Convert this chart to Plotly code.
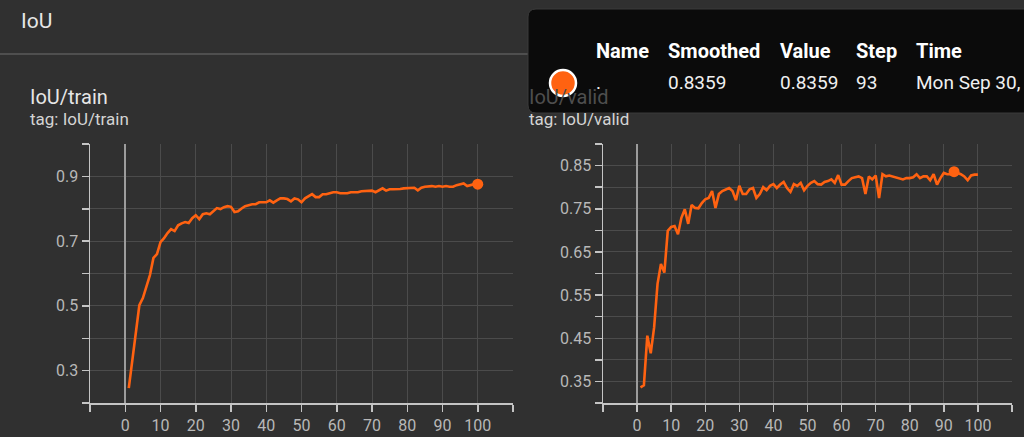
import plotly.graph_objects as go

# ---------------- data ----------------
steps = list(range(1, 101))

train_iou = [
    0.246, 0.33, 0.42, 0.502, 0.524, 0.558, 0.595, 0.648, 0.660, 0.697,
    0.709, 0.725, 0.737, 0.731, 0.749, 0.755, 0.759, 0.756, 0.771, 0.780,
    0.768, 0.783, 0.786, 0.783, 0.793, 0.802, 0.799, 0.805, 0.808, 0.806,
    0.790, 0.792, 0.801, 0.808, 0.811, 0.814, 0.814, 0.820, 0.820, 0.820,
    0.826, 0.819, 0.826, 0.832, 0.832, 0.830, 0.823, 0.832, 0.829, 0.820,
    0.832, 0.838, 0.845, 0.836, 0.836, 0.845, 0.845, 0.848, 0.851, 0.851,
    0.848, 0.848, 0.848, 0.851, 0.851, 0.851, 0.854, 0.854, 0.854, 0.856,
    0.851, 0.857, 0.863, 0.856, 0.860, 0.860, 0.860, 0.861, 0.863, 0.863,
    0.863, 0.865, 0.857, 0.865, 0.868, 0.870, 0.870, 0.868, 0.870, 0.868,
    0.870, 0.868, 0.868, 0.873, 0.876, 0.878, 0.870, 0.873, 0.876, 0.876,
]

valid_iou = [
    0.336, 0.341, 0.456, 0.415, 0.475, 0.576, 0.622, 0.602, 0.699, 0.708,
    0.710, 0.691, 0.729, 0.749, 0.715, 0.759, 0.752, 0.751, 0.763, 0.772,
    0.775, 0.791, 0.752, 0.784, 0.791, 0.795, 0.798, 0.791, 0.770, 0.803,
    0.784, 0.784, 0.795, 0.798, 0.775, 0.784, 0.800, 0.793, 0.803, 0.807,
    0.798, 0.806, 0.812, 0.798, 0.789, 0.807, 0.803, 0.810, 0.793, 0.803,
    0.810, 0.814, 0.807, 0.806, 0.812, 0.814, 0.818, 0.810, 0.828, 0.806,
    0.806, 0.814, 0.821, 0.823, 0.825, 0.821, 0.784, 0.825, 0.818, 0.827,
    0.775, 0.830, 0.825, 0.827, 0.825, 0.823, 0.820, 0.818, 0.821, 0.821,
    0.823, 0.830, 0.821, 0.825, 0.825, 0.816, 0.830, 0.806, 0.821, 0.833,
    0.830, 0.830, 0.8359, 0.833, 0.830, 0.825, 0.816, 0.827, 0.829, 0.829,
]

x_tickvals = list(range(-10, 111, 10))
x_ticktext = [str(v) if 0 <= v <= 100 else "" for v in x_tickvals]

train_ytickvals = [0.2, 0.3, 0.4, 0.5, 0.6, 0.7, 0.8, 0.9, 1.0]
train_yticktext = ["", "0.3", "", "0.5", "", "0.7", "", "0.9", ""]

valid_ytickvals = [0.30, 0.35, 0.40, 0.45, 0.50, 0.55, 0.60, 0.65, 0.70, 0.75, 0.80, 0.85, 0.90]
valid_yticktext = ["", "0.35", "", "0.45", "", "0.55", "", "0.65", "", "0.75", "", "0.85", ""]

hover_step = 93
hover_value = 0.8359
tooltip_headers = ["Name", "Smoothed", "Value", "Step", "Time"]
tooltip_values = [".", "0.8359", "0.8359", "93", "Mon Sep 30,"]

# ---------------- style ----------------
W, H = 1024, 437
BG = "#303030"
ORANGE = "#ff6211"
GRID = "#4b4b4b"
AXIS = "#c4c4c4"
TICKFONT = dict(family="Roboto", size=16, color="#b8b8b8")


def px(x):
    return x / W


def py(y):
    return 1 - y / H


fig = go.Figure()

fig.add_trace(go.Scatter(x=steps, y=train_iou, mode="lines",
                         line=dict(color=ORANGE, width=2.6),
                         xaxis="x", yaxis="y", showlegend=False, hoverinfo="skip"))
fig.add_trace(go.Scatter(x=[steps[-1]], y=[train_iou[-1]], mode="markers",
                         marker=dict(color=ORANGE, size=11),
                         xaxis="x", yaxis="y", showlegend=False, hoverinfo="skip"))
fig.add_trace(go.Scatter(x=steps, y=valid_iou, mode="lines",
                         line=dict(color=ORANGE, width=2.6),
                         xaxis="x2", yaxis="y2", showlegend=False, hoverinfo="skip"))
fig.add_trace(go.Scatter(x=[hover_step], y=[hover_value], mode="markers",
                         marker=dict(color=ORANGE, size=11),
                         xaxis="x2", yaxis="y2", showlegend=False, hoverinfo="skip"))

xcommon = dict(range=[-10, 110], tickmode="array", tickvals=x_tickvals, ticktext=x_ticktext,
               showgrid=True, gridcolor=GRID, gridwidth=1,
               zeroline=True, zerolinecolor="#9c9c9c", zerolinewidth=2,
               showline=True, linecolor=AXIS, linewidth=1.5,
               ticks="outside", ticklen=7, tickwidth=1.5, tickcolor=AXIS,
               tickfont=TICKFONT, fixedrange=True)
ycommon = dict(showgrid=True, gridcolor=GRID, gridwidth=1, zeroline=False,
               showline=True, linecolor=AXIS, linewidth=1.5,
               ticks="outside", ticklen=7, tickwidth=1.5, tickcolor=AXIS,
               tickfont=TICKFONT, tickmode="array", fixedrange=True)

fig.update_layout(
    width=W, height=H,
    margin=dict(l=0, r=0, t=0, b=0),
    paper_bgcolor=BG, plot_bgcolor=BG,
    font=dict(family="Roboto", color="#e0e0e0"),
    xaxis=dict(domain=[px(90), px(513)], anchor="y", **xcommon),
    yaxis=dict(domain=[py(403), py(144)], anchor="x", range=[0.2, 1.0],
               tickvals=train_ytickvals, ticktext=train_yticktext, **ycommon),
    xaxis2=dict(domain=[px(603), px(1012)], anchor="y2", **xcommon),
    yaxis2=dict(domain=[py(403), py(144)], anchor="x2", range=[0.3, 0.9],
                tickvals=valid_ytickvals, ticktext=valid_yticktext, **ycommon),
    hovermode=False,
)

# header divider
shapes = [dict(type="line", xref="paper", yref="paper", x0=0, x1=1, y0=py(54), y1=py(54),
               line=dict(color="#6e6e6e", width=1.2), layer="above")]

# tooltip box with rounded corners
x0, x1, y0, y1, r = 528, 1040, 9, 113, 8
path = (f"M {px(x0 + r)} {py(y0)} L {px(x1)} {py(y0)} L {px(x1)} {py(y1)} "
        f"L {px(x0 + r)} {py(y1)} Q {px(x0)} {py(y1)} {px(x0)} {py(y1 - r)} "
        f"L {px(x0)} {py(y0 + r)} Q {px(x0)} {py(y0)} {px(x0 + r)} {py(y0)} Z")
shapes.append(dict(type="path", xref="paper", yref="paper", path=path,
                   fillcolor="#0b0b0b", line=dict(color="#3a3a3a", width=1), layer="above"))
shapes.append(dict(type="circle", xref="paper", yref="paper",
                   x0=px(550), x1=px(576), y0=py(96), y1=py(70),
                   fillcolor=ORANGE, line=dict(color="white", width=2.5), layer="above"))
fig.update_layout(shapes=shapes)

ann = []


def text(x, y, s, size, color, bold=False):
    ann.append(dict(x=px(x), y=py(y), xref="paper", yref="paper", text=f"<b>{s}</b>" if bold else s,
                    showarrow=False, xanchor="left", yanchor="middle",
                    font=dict(family="Roboto", size=size, color=color)))


text(19, 21, "IoU", 21, "#e6e6e6")
text(28, 97, "IoU/train", 20, "#e6e6e6")
text(28, 119, "tag: IoU/train", 17, "#d4d4d4")
text(527, 97, "IoU/valid", 20, "#4e4e4e")
text(527, 119, "tag: IoU/valid", 17, "#d4d4d4")

col_x = [594, 666, 778, 854, 914]
for cx, h in zip(col_x, tooltip_headers):
    text(cx, 51, h, 20, "#ffffff", bold=True)
for cx, v in zip(col_x, tooltip_values):
    text(cx, 82, v, 19, "#f0f0f0")

fig.update_layout(annotations=ann)

fig.write_html(
    "out.html",
    config={"displayModeBar": False, "staticPlot": True},
    post_script="document.body.style.margin='0';document.body.style.background='#303030';",
)
